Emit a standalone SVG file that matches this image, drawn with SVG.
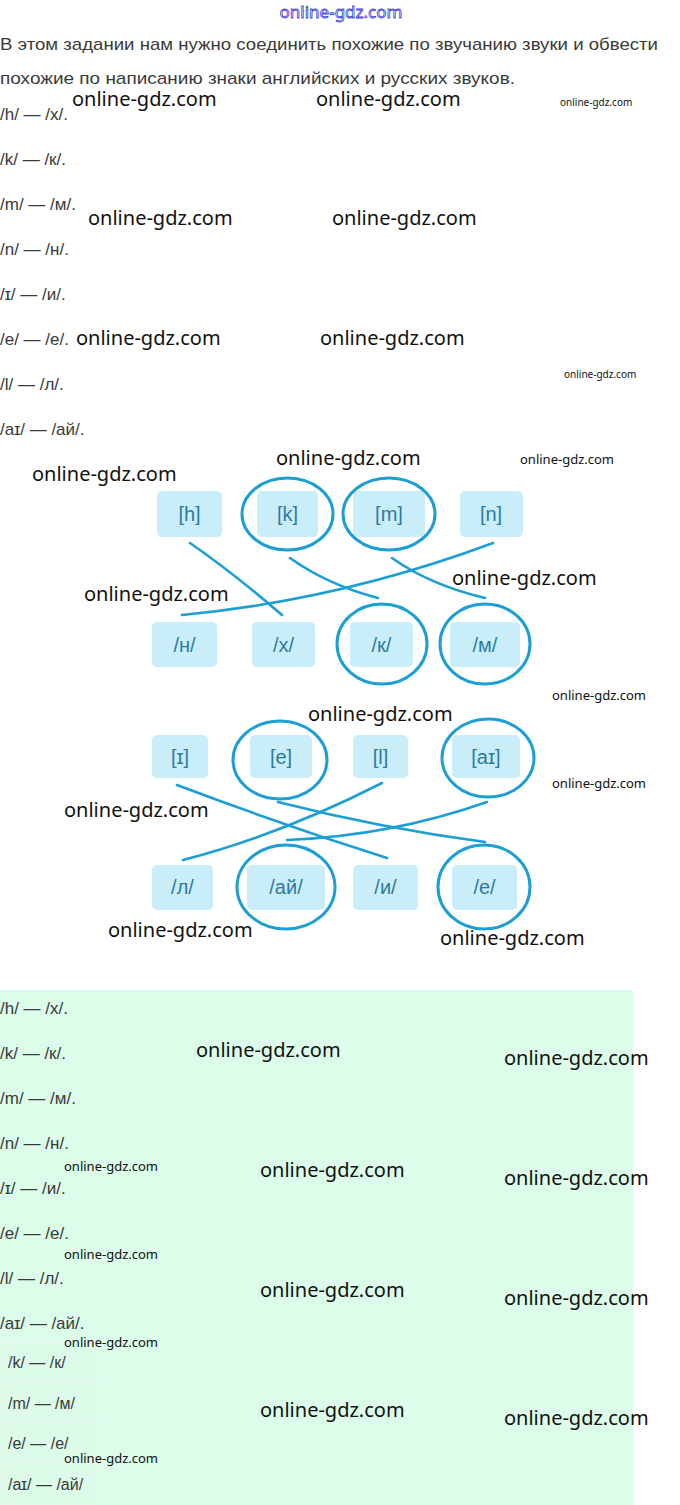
<svg xmlns="http://www.w3.org/2000/svg" width="680" height="1505" viewBox="0 0 680 1505">
<style>
.txt{font-family:"Liberation Sans",Arial,sans-serif;font-size:17px;fill:#3a3a3a}
.wm{font-family:"Noto Sans","Open Sans",sans-serif;font-size:20px;fill:#111}
.wms{font-family:"Noto Sans","Open Sans",sans-serif;font-size:10px;fill:#111}
.wmm{font-family:"Noto Sans","Open Sans",sans-serif;font-size:13px;fill:#111}
.box{fill:#c9eefa}
.bt{font-family:"Liberation Sans",Arial,sans-serif;font-size:20px;fill:#2d7ba0;text-anchor:middle}
.ring{fill:none;stroke:#1b9fd5;stroke-width:3}
.link{fill:none;stroke:#1b9fd5;stroke-width:2.6;stroke-linecap:round}
.cell{fill:#dcfbe8;stroke:#e9f7ef;stroke-width:1.5}
</style>
<rect x="0" y="0" width="680" height="1505" fill="#ffffff"/>
<rect x="0" y="990" width="633" height="515" fill="#dcfde9"/>

<text x="341" y="18" text-anchor="middle" style="font-family:'Noto Sans',sans-serif;font-size:17px;fill:#ffffff;stroke:#3a3ad8;stroke-width:0.8">online-gdz.com</text>

<g id="intro">
<text class="txt" x="0" y="50" textLength="658" lengthAdjust="spacingAndGlyphs">В этом задании нам нужно соединить похожие по звучанию звуки и обвести</text>
<text class="txt" x="0" y="84" textLength="515" lengthAdjust="spacingAndGlyphs">похожие по написанию знаки английских и русских звуков.</text>
</g>

<g id="list1">
<text class="txt" x="0" y="120">/h/ — /х/.</text>
<text class="txt" x="0" y="165">/k/ — /к/.</text>
<text class="txt" x="0" y="210">/m/ — /м/.</text>
<text class="txt" x="0" y="255">/n/ — /н/.</text>
<text class="txt" x="0" y="300">/ɪ/ — /и/.</text>
<text class="txt" x="0" y="345">/e/ — /e/.</text>
<text class="txt" x="0" y="390">/l/ — /л/.</text>
<text class="txt" x="0" y="435">/aɪ/ — /ай/.</text>
</g>

<g id="connectors">
<path class="link" d="M190,543 Q232,572 282,615"/>
<path class="link" d="M493,543 Q340,600 182,615"/>
<path class="link" d="M290,558 Q328,585 378,598"/>
<path class="link" d="M392,558 Q430,585 485,598"/>
<path class="link" d="M177,785 Q280,824 387,858"/>
<path class="link" d="M278,802 Q380,828 485,842"/>
<path class="link" d="M382,783 Q280,835 183,860"/>
<path class="link" d="M487,802 Q390,836 287,840"/>
</g>

<g id="node-h"><rect class="box" x="157" y="491" width="65" height="46" rx="5"/><text class="bt" x="189.5" y="521">[h]</text></g>
<g id="node-k"><rect class="box" x="257" y="491" width="61" height="46" rx="5"/><text class="bt" x="287.5" y="521">[k]</text><ellipse class="ring" cx="287.5" cy="514" rx="45.5" ry="36"/></g>
<g id="node-m"><rect class="box" x="353" y="491" width="72" height="46" rx="5"/><text class="bt" x="389" y="521">[m]</text><ellipse class="ring" cx="389" cy="514" rx="46" ry="36"/></g>
<g id="node-n"><rect class="box" x="460" y="491" width="63" height="46" rx="5"/><text class="bt" x="491" y="521">[n]</text></g>

<g id="node-rn"><rect class="box" x="152" y="622" width="65" height="45" rx="5"/><text class="bt" x="184.5" y="652">/н/</text></g>
<g id="node-rh"><rect class="box" x="252" y="622" width="63" height="45" rx="5"/><text class="bt" x="283.5" y="652">/х/</text></g>
<g id="node-rk"><rect class="box" x="350" y="622" width="63" height="45" rx="5"/><text class="bt" x="381.5" y="652">/к/</text><ellipse class="ring" cx="382" cy="644" rx="45" ry="40"/></g>
<g id="node-rm"><rect class="box" x="450" y="622" width="70" height="45" rx="5"/><text class="bt" x="485" y="652">/м/</text><ellipse class="ring" cx="485" cy="644" rx="45" ry="40"/></g>

<g id="node-i"><rect class="box" x="152" y="735" width="56" height="43" rx="5"/><text class="bt" x="180" y="764">[ɪ]</text></g>
<g id="node-e"><rect class="box" x="250" y="735" width="62" height="43" rx="5"/><text class="bt" x="281" y="764">[e]</text><ellipse class="ring" cx="280" cy="760" rx="47" ry="39"/></g>
<g id="node-l"><rect class="box" x="353" y="735" width="55" height="43" rx="5"/><text class="bt" x="380.5" y="764">[l]</text></g>
<g id="node-ai"><rect class="box" x="452" y="735" width="68" height="43" rx="5"/><text class="bt" x="486" y="764">[aɪ]</text><ellipse class="ring" cx="488" cy="758" rx="46" ry="39"/></g>

<g id="node-rl"><rect class="box" x="152" y="865" width="61" height="45" rx="5"/><text class="bt" x="182.5" y="894">/л/</text></g>
<g id="node-rai"><rect class="box" x="247" y="865" width="78" height="45" rx="5"/><text class="bt" x="286" y="894">/ай/</text><ellipse class="ring" cx="286" cy="887" rx="49" ry="42"/></g>
<g id="node-ri"><rect class="box" x="353" y="865" width="65" height="45" rx="5"/><text class="bt" x="385.5" y="894">/и/</text></g>
<g id="node-re"><rect class="box" x="452" y="865" width="65" height="45" rx="5"/><text class="bt" x="484.5" y="894">/е/</text><ellipse class="ring" cx="484" cy="887" rx="46" ry="42"/></g>

<g id="list2">
<text class="txt" x="0" y="1014">/h/ — /х/.</text>
<text class="txt" x="0" y="1059">/k/ — /к/.</text>
<text class="txt" x="0" y="1104">/m/ — /м/.</text>
<text class="txt" x="0" y="1149">/n/ — /н/.</text>
<text class="txt" x="0" y="1194">/ɪ/ — /и/.</text>
<text class="txt" x="0" y="1239">/e/ — /e/.</text>
<text class="txt" x="0" y="1284">/l/ — /л/.</text>
<text class="txt" x="0" y="1329">/aɪ/ — /ай/.</text>
</g>

<g id="table">
<rect class="cell" x="0" y="1342" width="97" height="41"/>
<rect class="cell" x="0" y="1383" width="97" height="40"/>
<rect class="cell" x="0" y="1423" width="97" height="40"/>
<rect class="cell" x="0" y="1463" width="97" height="42"/>
<text class="txt" x="8" y="1368" style="font-size:16px">/k/ — /к/</text>
<text class="txt" x="8" y="1409" style="font-size:16px">/m/ — /м/</text>
<text class="txt" x="8" y="1449" style="font-size:16px">/e/ — /e/</text>
<text class="txt" x="8" y="1490" style="font-size:16px">/aɪ/ — /ай/</text>
</g>

<g id="watermarks">
<text class="wm" x="72" y="106">online-gdz.com</text>
<text class="wm" x="316" y="106">online-gdz.com</text>
<text class="wms" x="560" y="106">online-gdz.com</text>
<text class="wm" x="88" y="225">online-gdz.com</text>
<text class="wm" x="332" y="225">online-gdz.com</text>
<text class="wm" x="76" y="345">online-gdz.com</text>
<text class="wm" x="320" y="345">online-gdz.com</text>
<text class="wms" x="564" y="378">online-gdz.com</text>
<text class="wm" x="32" y="481">online-gdz.com</text>
<text class="wm" x="276" y="465">online-gdz.com</text>
<text class="wmm" x="520" y="464">online-gdz.com</text>
<text class="wm" x="452" y="585">online-gdz.com</text>
<text class="wm" x="84" y="601">online-gdz.com</text>
<text class="wmm" x="552" y="700">online-gdz.com</text>
<text class="wm" x="308" y="721">online-gdz.com</text>
<text class="wmm" x="552" y="788">online-gdz.com</text>
<text class="wm" x="64" y="817">online-gdz.com</text>
<text class="wm" x="108" y="937">online-gdz.com</text>
<text class="wm" x="440" y="945">online-gdz.com</text>
<text class="wm" x="196" y="1057">online-gdz.com</text>
<text class="wm" x="504" y="1065">online-gdz.com</text>
<text class="wmm" x="64" y="1171">online-gdz.com</text>
<text class="wm" x="260" y="1177">online-gdz.com</text>
<text class="wm" x="504" y="1185">online-gdz.com</text>
<text class="wmm" x="64" y="1259">online-gdz.com</text>
<text class="wm" x="260" y="1297">online-gdz.com</text>
<text class="wm" x="504" y="1305">online-gdz.com</text>
<text class="wmm" x="64" y="1347">online-gdz.com</text>
<text class="wm" x="260" y="1417">online-gdz.com</text>
<text class="wm" x="504" y="1425">online-gdz.com</text>
<text class="wmm" x="64" y="1463">online-gdz.com</text>
</g>
</svg>
